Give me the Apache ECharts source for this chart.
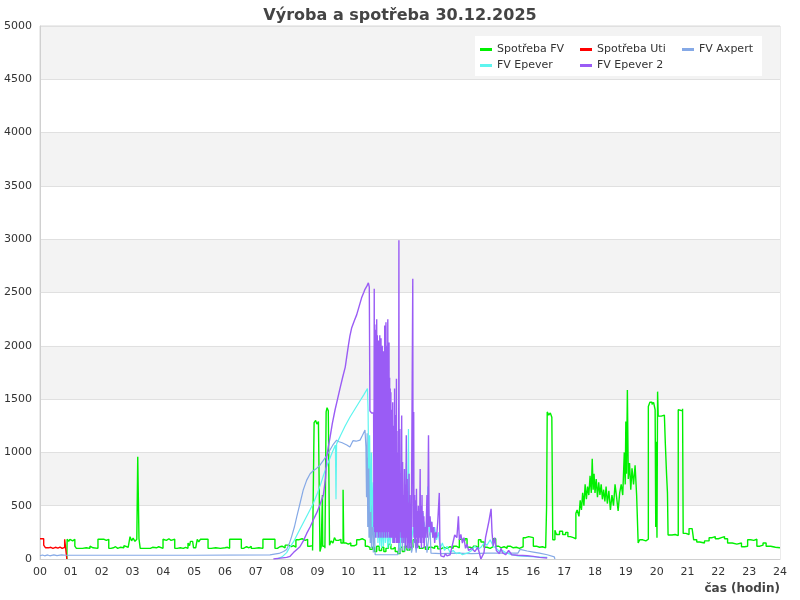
<!DOCTYPE html>
<html><head><meta charset="utf-8">
<script src="https://cdn.jsdelivr.net/npm/echarts@6/dist/echarts.min.js"></script>
<style>html,body{margin:0;padding:0;background:#fff}#c{width:800px;height:600px}</style>
</head><body><div id="c"></div>
<script>
// ---- data: [hour, W] ----
const seriesNames = ['Spotřeba FV','Spotřeba Uti','FV Axpert','FV Epever','FV Epever 2'];
const hourTicks = ['00','01','02','03','04','05','06','07','08','09','10','11','12','13','14','15','16','17','18','19','20','21','22','23','24'];

const spotrebaFV = [
[0.87,0],[0.88,185],[0.93,165],[0.97,185],[1.02,170],[1.06,185],[1.13,120],[1.18,100],[1.25,110],[1.3,100],[1.38,115],[1.42,105],[1.5,110],[1.55,100],[1.62,120],[1.66,105],[1.72,115],[1.78,100],
[1.88,185],[1.95,170],[2.0,185],[2.08,175],[2.15,185],[2.23,100],[2.3,105],[2.38,115],[2.45,100],[2.52,110],[2.6,120],[2.65,105],[2.72,125],[2.78,110],[2.86,115],
[2.92,210],[2.97,170],[3.02,195],[3.08,165],[3.14,185],[3.17,960],[3.19,575],[3.21,190],[3.25,100],[3.32,110],[3.38,100],[3.45,115],[3.5,100],[3.58,110],[3.65,120],[3.7,105],[3.78,115],[3.85,100],
[3.99,185],[4.05,175],[4.1,190],[4.18,175],[4.25,185],[4.37,100],[4.45,105],[4.55,100],[4.65,110],[4.72,100],[4.8,150],[4.85,125],[4.88,165],[4.95,150],[4.98,105],[5.05,120],
[5.1,185],[5.15,160],[5.2,185],[5.3,175],[5.36,185],[5.45,100],[5.55,115],[5.6,105],[5.7,120],[5.75,100],[5.85,115],[5.9,105],[6.0,110],[6.08,100],
[6.15,185],[6.22,175],[6.28,185],[6.4,170],[6.45,185],[6.53,100],[6.6,115],[6.7,105],[6.78,120],[6.85,100],[6.95,115],[7.0,105],[7.1,110],[7.15,100],
[7.23,185],[7.3,170],[7.36,185],[7.5,185],[7.62,100],[7.7,115],[7.78,120],[7.85,105],[7.95,130],[8.05,115],[8.15,125],[8.22,110],
[8.3,180],[8.38,190],[8.5,175],[8.6,185],[8.68,120],[8.75,125],[8.84,80],[8.89,1280],[8.94,1300],[8.98,1265],[9.03,1290],[9.08,70],[9.12,115],[9.16,600],[9.17,120],[9.24,100],
[9.28,1380],[9.31,1420],[9.35,1390],[9.39,130],[9.44,170],[9.5,150],[9.55,200],[9.6,175],[9.68,185],[9.76,150],[9.83,650],[9.85,150],[9.93,140],[10.0,150],[10.08,125],[10.2,135],
[10.27,180],[10.35,190],[10.45,175],[10.55,120],[10.62,110],[10.7,90],[10.78,110],[10.85,70],[10.92,120],[11.0,80],[11.08,110],[11.15,70],[11.22,100],[11.3,140],[11.38,95],[11.45,110],
[11.52,70],[11.6,50],[11.68,110],[11.75,70],[11.82,120],[11.9,85],[12.0,110],[12.1,180],[12.2,120],[12.3,100],[12.4,115],[12.5,90],[12.6,110],[12.7,100],[12.8,120],[12.9,95],
[13.0,110],[13.1,100],[13.2,115],[13.3,100],[13.4,120],[13.5,105],[13.6,185],[13.7,170],[13.78,190],[13.85,110],[13.95,100],[14.05,120],[14.15,105],[14.22,180],[14.3,160],[14.4,110],
[14.5,100],[14.6,115],[14.7,190],[14.78,120],[14.88,105],[14.95,115],[15.05,100],[15.15,120],[15.25,105],[15.35,110],[15.45,100],[15.55,115],[15.67,200],[15.75,210],[15.85,200],
[16.0,120],[16.1,110],[16.2,115],[16.3,105],[16.4,110],[16.43,490],[16.45,1380],[16.5,1350],[16.55,1370],[16.6,1330],[16.63,180],[16.7,270],[16.75,230],[16.85,260],[16.95,230],
[17.05,250],[17.12,210],[17.2,200],[17.3,190],[17.38,430],[17.42,460],[17.48,400],[17.52,550],[17.56,460],[17.6,620],[17.64,500],[17.68,700],[17.72,560],[17.76,680],[17.8,600],
[17.84,780],[17.88,620],[17.91,940],[17.94,650],[17.97,800],[18.0,620],[18.04,750],[18.08,580],[18.12,720],[18.16,600],[18.2,700],[18.24,560],[18.28,650],[18.32,540],[18.36,680],
[18.4,520],[18.45,640],[18.5,460],[18.55,600],[18.6,500],[18.65,700],[18.7,580],[18.75,450],[18.8,620],[18.85,700],[18.9,600],[18.95,1000],[18.98,700],[19.0,1290],[19.02,800],
[19.05,1585],[19.08,750],[19.12,900],[19.16,650],[19.2,850],[19.25,700],[19.3,880],[19.35,600],[19.4,150],[19.45,180],[19.55,170],[19.65,185],[19.73,1430],[19.78,1470],[19.85,1450],
[19.9,1470],[19.95,1400],[19.97,300],[19.99,1100],[20.01,200],[20.03,1570],[20.05,1340],[20.15,1350],[20.25,1340],[20.28,1090],[20.32,800],[20.35,620],[20.37,225],[20.5,230],[20.6,220],
[20.7,1400],[20.75,1390],[20.84,1410],[20.86,240],[20.95,230],[21.05,285],[21.15,280],[21.2,180],[21.3,160],[21.4,150],[21.55,170],[21.7,200],[21.8,210],[21.9,190],[22.0,200],
[22.1,210],[22.2,190],[22.3,150],[22.45,140],[22.6,150],[22.75,115],[22.85,120],[22.95,180],[23.05,175],[23.15,185],[23.25,120],[23.35,130],[23.45,150],[23.55,120],[23.7,110],[23.85,105],[24.0,110]
];

const spotrebaUti = [[0,190],[0.12,130],[0.18,105],[0.28,110],[0.35,100],[0.42,110],[0.5,102],[0.58,112],[0.65,100],[0.72,110],[0.8,185],[0.86,190],[0.87,0]];

const fvAxpert = [
[0,30],[0.08,38],[0.15,30],[0.25,38],[0.32,30],[0.45,38],[0.55,32],[0.7,38],[0.85,35],[1.5,35],[3,35],[5,35],[7.46,38],[7.6,45],[7.75,52],[7.9,70],[8.0,90],[8.08,140],[8.16,210],
[8.25,300],[8.33,400],[8.44,530],[8.54,650],[8.65,740],[8.76,800],[8.87,830],[8.97,850],[9.08,880],[9.19,925],[9.3,970],[9.4,1020],[9.5,1070],[9.62,1115],[9.7,1100],[9.8,1090],
[9.95,1070],[10.05,1050],[10.11,1040],[10.15,1110],[10.25,1105],[10.38,1115],[10.46,1160],[10.54,1210],[10.57,1050],[10.59,580],[10.61,1180],[10.63,300],[10.65,950],[10.67,200],
[10.69,1000],[10.71,150],[10.73,700],[10.75,100],[10.78,500],[10.81,60],[10.84,350],[10.87,40],[11.6,40],[11.62,60],[11.66,300],[11.68,50],[11.72,520],[11.75,80],[11.8,400],
[11.84,70],[11.9,300],[11.95,80],[12.0,250],[12.05,60],[12.15,200],[12.2,60],[12.3,370],[12.35,280],[12.45,350],[12.52,240],[12.55,60],[12.6,55],[12.65,300],[12.68,55],[13.0,50],
[13.5,55],[14.0,50],[14.5,55],[15.0,55],[15.5,55],[15.57,90],[15.8,75],[16.0,65],[16.2,55],[16.45,40],[16.68,20],[16.7,0]
];

const fvEpever = [
[7.68,0],[7.85,20],[8.0,60],[8.1,110],[8.22,160],[8.38,250],[8.54,340],[8.7,430],[8.87,525],[9.0,620],[9.1,700],[9.2,790],[9.3,870],[9.45,980],[9.58,1070],[9.6,560],[9.62,1080],
[9.75,1160],[9.9,1250],[10.05,1330],[10.2,1400],[10.35,1470],[10.5,1540],[10.62,1600],[10.64,1400],[10.66,850],[10.69,1160],[10.72,440],[10.75,1000],[10.78,300],[10.81,720],
[10.84,250],[10.87,600],[10.9,200],[10.93,500],[10.96,150],[10.99,450],[11.02,120],[11.05,380],[11.08,100],[11.11,350],[11.14,120],[11.17,400],[11.2,150],[11.24,300],[11.28,100],
[11.32,250],[11.36,120],[11.4,350],[11.44,150],[11.48,500],[11.52,200],[11.56,650],[11.6,150],[11.64,400],[11.68,100],[11.72,300],[11.76,150],[11.8,500],[11.84,200],[11.88,900],
[11.92,300],[11.95,1220],[11.97,200],[12.0,400],[12.05,150],[12.1,300],[12.15,200],[12.2,450],[12.25,250],[12.3,400],[12.35,250],[12.42,430],[12.48,200],[12.55,300],[12.58,680],
[12.62,250],[12.68,350],[12.74,200],[12.8,300],[12.86,180],[12.92,250],[12.98,100],[13.05,150],[13.12,80],[13.2,120],[13.3,60],[13.4,80],[13.5,50],[13.6,60],[13.7,40],[13.8,50],
[13.9,60],[14.0,80],[14.1,120],[14.2,90],[14.3,110],[14.4,150],[14.5,130],[14.6,180],[14.7,120],[14.8,100],[14.9,70],[15.0,80],[15.1,60],[15.2,50],[15.3,40],[15.5,30],[15.8,25],[16.1,20],[16.45,15]
];

const fvEpever2 = [
[7.57,0],[7.8,8],[8.0,15],[8.11,25],[8.22,60],[8.33,90],[8.43,115],[8.54,170],[8.65,240],[8.76,300],[8.87,370],[8.97,430],[9.08,510],[9.19,600],[9.22,610],[9.26,760],[9.3,960],
[9.35,1050],[9.4,1130],[9.48,1270],[9.57,1400],[9.65,1500],[9.73,1600],[9.82,1710],[9.9,1800],[9.95,1900],[10.0,2000],[10.05,2090],[10.11,2170],[10.2,2240],[10.27,2290],[10.35,2370],
[10.43,2450],[10.5,2500],[10.54,2530],[10.6,2560],[10.65,2590],[10.68,2550],[10.7,1390],[10.75,1370],[10.8,1380],[10.82,1370],
[10.83,300],[10.84,2535],[10.85,250],[10.86,2200],[10.87,300],[10.88,2150],[10.89,200],[10.9,2000],[10.91,350],[10.92,2250],[10.93,250],[10.94,2100],[10.95,300],[10.96,1950],
[10.97,200],[10.98,2050],[10.99,300],[11.0,1900],[11.01,250],[11.02,2100],[11.03,200],[11.04,1850],[11.05,300],[11.06,2070],[11.07,250],[11.08,1800],[11.09,200],[11.1,2000],
[11.11,300],[11.12,1750],[11.13,250],[11.14,1950],[11.15,200],[11.16,1700],[11.17,300],[11.18,2190],[11.19,250],[11.2,1900],[11.21,200],[11.22,2220],[11.23,300],[11.24,2000],
[11.25,250],[11.26,1850],[11.27,200],[11.28,2250],[11.29,300],[11.3,1950],[11.31,250],[11.32,2030],[11.33,200],[11.34,1700],[11.35,300],[11.36,1600],[11.37,200],[11.38,1565],
[11.39,250],[11.4,1400],[11.41,200],[11.42,1300],[11.43,250],[11.44,1470],[11.45,150],[11.46,1250],[11.47,250],[11.48,1200],[11.49,150],[11.5,1600],[11.51,250],[11.52,1350],
[11.53,200],[11.54,1100],[11.55,150],[11.56,1690],[11.57,250],[11.58,1200],[11.59,150],[11.6,900],[11.61,200],[11.62,1000],[11.63,150],[11.64,2990],[11.65,150],
[11.67,1220],[11.68,250],[11.7,800],[11.71,200],[11.73,1345],
[11.74,150],[11.76,910],[11.77,200],[11.79,600],[11.8,150],[11.82,845],[11.83,200],[11.85,700],[11.86,100],[11.88,1160],[11.89,200],[11.91,750],[11.92,100],[11.94,530],[11.95,150],
[11.97,800],[11.98,100],[12.0,600],[12.01,150],[12.03,500],[12.04,100],[12.09,2630],[12.1,300],[12.12,1380],[12.13,200],[12.15,600],[12.16,150],[12.18,550],[12.19,100],[12.21,660],
[12.22,200],[12.24,450],[12.25,100],[12.27,500],[12.28,150],[12.3,400],[12.31,200],[12.33,845],[12.34,150],[12.36,500],[12.37,100],[12.39,600],[12.4,200],[12.42,450],[12.43,150],
[12.45,400],[12.46,100],[12.48,300],[12.5,200],[12.52,250],[12.55,600],[12.57,200],[12.6,1160],[12.62,300],[12.65,400],[12.68,250],[12.71,350],[12.74,200],[12.77,300],[12.8,150],
[12.83,250],[12.86,200],[12.9,350],[12.95,620],[12.97,150],[13.0,30],[13.05,40],[13.1,20],[13.15,50],[13.2,30],[13.3,40],[13.35,100],[13.45,225],[13.52,200],[13.57,400],[13.6,180],
[13.65,230],[13.7,150],[13.75,200],[13.8,100],[13.85,140],[13.9,80],[14.0,100],[14.1,70],[14.2,110],[14.3,0],[14.4,60],[14.45,200],[14.55,340],[14.63,470],[14.66,250],[14.7,120],
[14.75,200],[14.8,80],[14.9,50],[14.95,100],[15.0,60],[15.1,40],[15.2,80],[15.3,40],[15.5,35],[15.8,30],[16.0,25],[16.2,15],[16.45,10]
];

const yTicksMax = 5000, yTickStep = 500;

const chart = echarts.init(document.getElementById('c'), null, {renderer:'canvas'});
const colors = ['#00f000','#ff0000','#85a9e6','#5ef5ef','#9a5cf5'];
const legendPos = [[480,44],[580,44],[682,44],[480,60],[580,60]];

chart.setOption({
  animation:false,
  textStyle:{fontFamily:'DejaVu Sans'},
  title:{text:'Výroba a spotřeba 30.12.2025', left:'center', top:3,
    textStyle:{fontSize:16, fontWeight:'bold', color:'#444', fontFamily:'DejaVu Sans'}},
  graphic:[{type:'rect', shape:{x:475,y:36,width:287,height:40}, style:{fill:'#fff'}, z:3}],
  legend: seriesNames.map((n,i)=>({data:[n], left:legendPos[i][0], top:legendPos[i][1], padding:0,
    icon:'rect', itemWidth:12, itemHeight:3, itemGap:5, z:5,
    textStyle:{fontSize:11, color:'#333', fontFamily:'DejaVu Sans'}})),
  grid:{left:40, right:20, top:26, bottom:41, containLabel:false, outerBoundsMode:'none',
    show:true, borderColor:'#d8d8d8', borderWidth:1, backgroundColor:'transparent'},
  xAxis:{type:'value', min:0, max:24, interval:1,
    name:'čas (hodin)', nameLocation:'end', nameGap:0,
    nameTextStyle:{fontSize:12, fontWeight:'bold', color:'#444', align:'right', verticalAlign:'top', padding:[24,0,0,0]},
    axisLine:{show:true, lineStyle:{color:'#d0d0d0'}}, axisTick:{show:false}, splitLine:{show:false},
    axisLabel:{fontSize:11, color:'#333', margin:8, formatter:v=>hourTicks[Math.round(v)]}},
  yAxis:{type:'value', min:0, max:yTicksMax, interval:yTickStep,
    name:'výkon (W)', nameLocation:'middle', nameGap:31,
    nameTextStyle:{fontSize:12, fontWeight:'bold', color:'#444'},
    axisLine:{show:true, lineStyle:{color:'#d0d0d0'}}, axisTick:{show:false},
    splitLine:{show:true, lineStyle:{color:'#e0e0e0', width:1}},
    splitArea:{show:true, areaStyle:{color:['#ffffff','#f3f3f3']}},
    axisLabel:{fontSize:11, color:'#333', margin:8, formatter:v=>String(v)}},
  series:[
    {name:seriesNames[0], type:'line', step:'end', data:spotrebaFV, showSymbol:false, color:colors[0], lineStyle:{width:1.4}, z:2},
    {name:seriesNames[1], type:'line', step:'end', data:spotrebaUti, showSymbol:false, color:colors[1], lineStyle:{width:1.4}, z:2},
    {name:seriesNames[2], type:'line', data:fvAxpert, showSymbol:false, color:colors[2], lineStyle:{width:1.2}, z:3},
    {name:seriesNames[3], type:'line', data:fvEpever, showSymbol:false, color:colors[3], lineStyle:{width:1.2}, z:4},
    {name:seriesNames[4], type:'line', data:fvEpever2, showSymbol:false, color:colors[4], lineStyle:{width:1.4}, z:5}
  ]
});
</script></body></html>
